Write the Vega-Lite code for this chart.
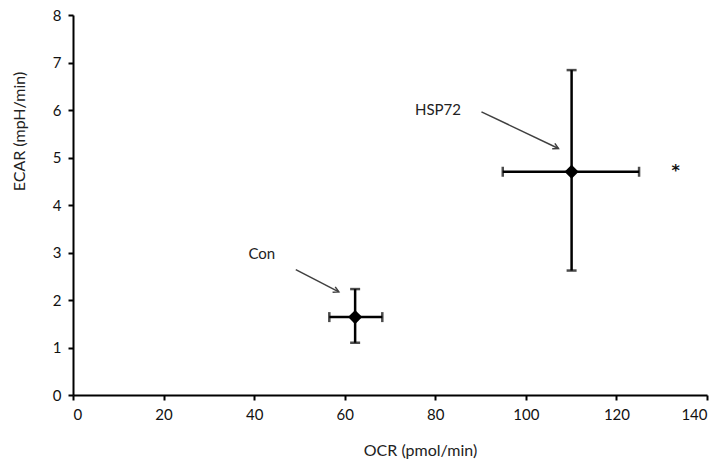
{
  "$schema": "https://vega.github.io/schema/vega-lite/v6.json",
  "width": 634,
  "height": 380,
  "autosize": {"type": "none"},
  "padding": {"left": 73, "top": 15, "right": 17, "bottom": 68},
  "background": "white",
  "config": {
    "view": {"stroke": null},
    "font": "Lato",
    "axis": {
      "grid": false,
      "domainColor": "black",
      "domainWidth": 2,
      "tickColor": "black",
      "tickWidth": 2,
      "tickSize": 5,
      "labelFont": "Lato",
      "labelFontSize": 15,
      "labelColor": "#111",
      "labelPadding": 7,
      "titleFont": "Lato",
      "titleFontSize": 16,
      "titleFontWeight": "normal",
      "titleColor": "#222"
    }
  },
  "datasets": {
    "groups": [
      {"group": "Con", "ocr": 62.3, "ecar": 1.64, "ocr_lo": 56.6, "ocr_hi": 68.3, "ecar_lo": 1.1, "ecar_hi": 2.23},
      {"group": "HSP72", "ocr": 110.1, "ecar": 4.7, "ocr_lo": 94.9, "ocr_hi": 125.0, "ecar_lo": 2.62, "ecar_hi": 6.84}
    ],
    "arrows": [
      {"group": "Con", "x1": 49.2, "y1": 2.64, "x2": 58.7, "y2": 2.17},
      {"group": "HSP72", "x1": 90.2, "y1": 5.96, "x2": 107.2, "y2": 5.19}
    ],
    "labels": [
      {"text": "Con", "x": 41.7, "y": 2.97},
      {"text": "HSP72", "x": 80.6, "y": 6.01}
    ],
    "marks": [
      {"text": "*", "x": 133.1, "y": 4.72}
    ]
  },
  "layer": [
    {
      "data": {"name": "groups"},
      "mark": {"type": "rule", "color": "black", "strokeWidth": 2.5},
      "encoding": {
        "x": {"field": "ocr", "type": "quantitative",
          "scale": {"domain": [0, 140], "nice": false},
          "axis": {"values": [0, 20, 40, 60, 80, 100, 120, 140], "title": "OCR (pmol/min)", "titleX": 347, "titleY": 55, "titleAlign": "center", "titleBaseline": "middle"}},
        "y": {"field": "ecar_lo", "type": "quantitative",
          "scale": {"domain": [0, 8], "nice": false},
          "axis": {"values": [0, 1, 2, 3, 4, 5, 6, 7, 8], "title": "ECAR (mpH/min)", "titleX": -54, "titleY": 116, "titleAngle": -90, "titleAlign": "center", "titleBaseline": "middle"}},
        "y2": {"field": "ecar_hi"}
      }
    },
    {
      "data": {"name": "groups"},
      "mark": {"type": "rule", "color": "black", "strokeWidth": 2.5},
      "encoding": {
        "x": {"field": "ocr_lo", "type": "quantitative"},
        "x2": {"field": "ocr_hi"},
        "y": {"field": "ecar", "type": "quantitative"}
      }
    },
    {
      "data": {"name": "groups"},
      "mark": {"type": "tick", "orient": "horizontal", "color": "black", "thickness": 2.5, "size": 10},
      "encoding": {
        "x": {"field": "ocr", "type": "quantitative"},
        "y": {"field": "ecar_lo", "type": "quantitative"}
      }
    },
    {
      "data": {"name": "groups"},
      "mark": {"type": "tick", "orient": "horizontal", "color": "black", "thickness": 2.5, "size": 10},
      "encoding": {
        "x": {"field": "ocr", "type": "quantitative"},
        "y": {"field": "ecar_hi", "type": "quantitative"}
      }
    },
    {
      "data": {"name": "groups"},
      "mark": {"type": "tick", "orient": "vertical", "color": "black", "thickness": 2.5, "size": 10},
      "encoding": {
        "x": {"field": "ocr_lo", "type": "quantitative"},
        "y": {"field": "ecar", "type": "quantitative"}
      }
    },
    {
      "data": {"name": "groups"},
      "mark": {"type": "tick", "orient": "vertical", "color": "black", "thickness": 2.5, "size": 10},
      "encoding": {
        "x": {"field": "ocr_hi", "type": "quantitative"},
        "y": {"field": "ecar", "type": "quantitative"}
      }
    },
    {
      "data": {"name": "groups"},
      "mark": {"type": "point", "shape": "diamond", "filled": true, "color": "black", "opacity": 1, "size": 200},
      "encoding": {
        "x": {"field": "ocr", "type": "quantitative"},
        "y": {"field": "ecar", "type": "quantitative"}
      }
    },
    {
      "data": {"name": "arrows"},
      "mark": {"type": "rule", "color": "#404040", "strokeWidth": 1.5},
      "encoding": {
        "x": {"field": "x1", "type": "quantitative"},
        "y": {"field": "y1", "type": "quantitative"},
        "x2": {"field": "x2"},
        "y2": {"field": "y2"}
      }
    },
    {
      "data": {"name": "arrows"},
      "mark": {"type": "point", "shape": "M -1 -0.55 L 0 0 L -1 0.55", "filled": false, "stroke": "#404040", "strokeWidth": 1.5, "opacity": 1, "size": 120, "angle": 26},
      "encoding": {
        "x": {"field": "x2", "type": "quantitative"},
        "y": {"field": "y2", "type": "quantitative"}
      }
    },
    {
      "data": {"name": "labels"},
      "mark": {"type": "text", "font": "Lato", "fontSize": 15, "color": "#222", "align": "center", "baseline": "middle"},
      "encoding": {
        "x": {"field": "x", "type": "quantitative"},
        "y": {"field": "y", "type": "quantitative"},
        "text": {"field": "text"}
      }
    },
    {
      "data": {"name": "marks"},
      "mark": {"type": "text", "font": "DejaVu Sans", "fontSize": 16, "fontWeight": "bold", "color": "#111", "align": "center", "baseline": "middle"},
      "encoding": {
        "x": {"field": "x", "type": "quantitative"},
        "y": {"field": "y", "type": "quantitative"},
        "text": {"field": "text"}
      }
    }
  ]
}
